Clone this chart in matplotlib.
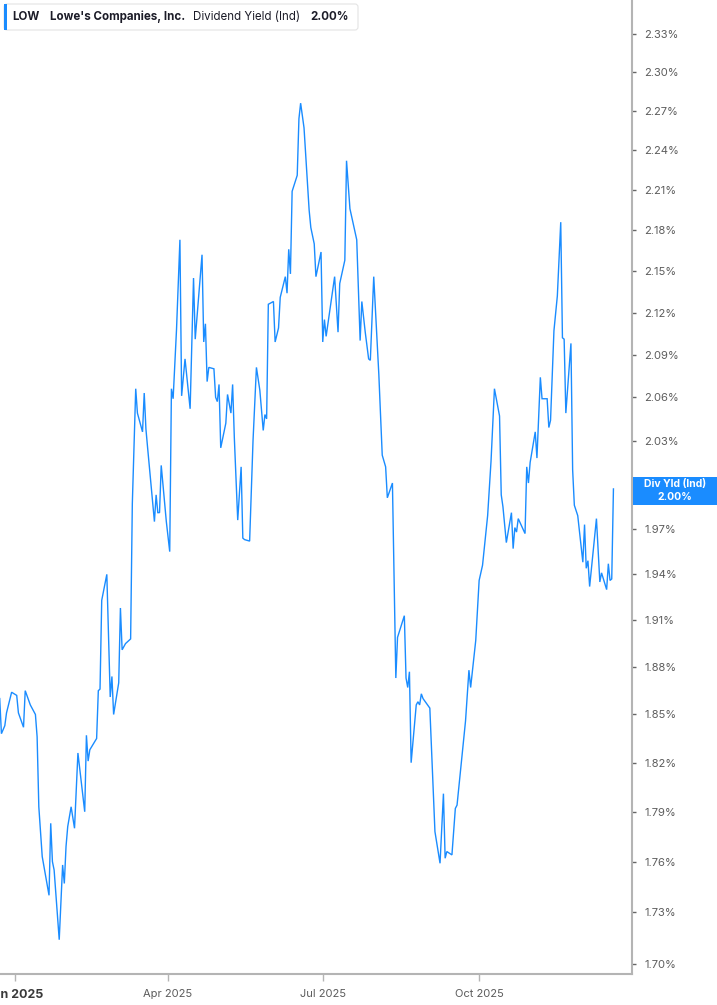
import matplotlib
matplotlib.use("Agg")
import matplotlib.pyplot as plt
import pandas as pd
from matplotlib.patches import FancyBboxPatch, Rectangle
from matplotlib.transforms import IdentityTransform
from matplotlib.ticker import NullLocator

# Lowe's (LOW) - dividend yield (indicated), in %
dates = [
    "2024-12-23", "2024-12-24", "2024-12-26", "2024-12-27", "2024-12-30",
    "2025-01-02", "2025-01-03", "2025-01-06", "2025-01-07", "2025-01-10",
    "2025-01-13", "2025-01-14", "2025-01-15", "2025-01-17", "2025-01-21",
    "2025-01-22", "2025-01-23", "2025-01-24", "2025-01-27", "2025-01-29",
    "2025-01-30", "2025-01-31", "2025-02-01", "2025-02-03", "2025-02-05",
    "2025-02-07", "2025-02-11", "2025-02-12", "2025-02-13", "2025-02-14",
    "2025-02-18", "2025-02-19", "2025-02-20", "2025-02-21", "2025-02-24",
    "2025-02-26", "2025-02-27", "2025-02-28", "2025-03-03", "2025-03-04",
    "2025-03-05", "2025-03-07", "2025-03-10", "2025-03-11", "2025-03-13",
    "2025-03-14", "2025-03-17", "2025-03-18", "2025-03-19", "2025-03-20",
    "2025-03-24", "2025-03-25", "2025-03-26", "2025-03-27", "2025-03-28",
    "2025-03-31", "2025-04-02", "2025-04-03", "2025-04-04", "2025-04-06",
    "2025-04-08", "2025-04-09", "2025-04-11", "2025-04-14", "2025-04-16",
    "2025-04-17", "2025-04-19", "2025-04-21", "2025-04-22", "2025-04-23",
    "2025-04-24", "2025-04-25", "2025-04-28", "2025-04-29", "2025-04-30",
    "2025-05-01", "2025-05-02", "2025-05-05", "2025-05-06", "2025-05-08",
    "2025-05-09", "2025-05-10", "2025-05-12", "2025-05-14", "2025-05-15",
    "2025-05-16", "2025-05-19", "2025-05-21", "2025-05-23", "2025-05-25",
    "2025-05-27", "2025-05-28", "2025-05-29", "2025-05-30", "2025-06-02",
    "2025-06-03", "2025-06-05", "2025-06-06", "2025-06-09", "2025-06-10",
    "2025-06-11", "2025-06-12", "2025-06-13", "2025-06-16", "2025-06-17",
    "2025-06-18", "2025-06-20", "2025-06-23", "2025-06-24", "2025-06-26",
    "2025-06-27", "2025-06-30", "2025-07-01", "2025-07-02", "2025-07-03",
    "2025-07-08", "2025-07-10", "2025-07-11", "2025-07-14", "2025-07-15",
    "2025-07-17", "2025-07-21", "2025-07-23", "2025-07-24", "2025-07-26",
    "2025-07-28", "2025-07-29", "2025-07-31", "2025-08-03", "2025-08-05",
    "2025-08-07", "2025-08-08", "2025-08-11", "2025-08-13", "2025-08-14",
    "2025-08-16", "2025-08-18", "2025-08-19", "2025-08-20", "2025-08-21",
    "2025-08-22", "2025-08-25", "2025-08-26", "2025-08-27", "2025-08-28",
    "2025-08-29", "2025-09-02", "2025-09-05", "2025-09-08", "2025-09-10",
    "2025-09-11", "2025-09-12", "2025-09-15", "2025-09-17", "2025-09-18",
    "2025-09-23", "2025-09-25", "2025-09-26", "2025-09-29", "2025-10-01",
    "2025-10-03", "2025-10-06", "2025-10-08", "2025-10-10", "2025-10-13",
    "2025-10-14", "2025-10-15", "2025-10-17", "2025-10-20", "2025-10-21",
    "2025-10-22", "2025-10-23", "2025-10-24", "2025-10-28", "2025-10-29",
    "2025-10-30", "2025-10-31", "2025-11-03", "2025-11-04", "2025-11-06",
    "2025-11-07", "2025-11-10", "2025-11-11", "2025-11-12", "2025-11-14",
    "2025-11-16", "2025-11-18", "2025-11-19", "2025-11-20", "2025-11-21",
    "2025-11-24", "2025-11-25", "2025-11-26", "2025-11-28", "2025-12-01",
    "2025-12-02", "2025-12-03", "2025-12-04", "2025-12-05", "2025-12-09",
    "2025-12-11", "2025-12-12", "2025-12-15", "2025-12-16", "2025-12-17",
    "2025-12-18", "2025-12-19",
]

div_yield = [
    1.860, 1.838, 1.843, 1.851, 1.864,
    1.862, 1.851, 1.842, 1.865, 1.856,
    1.850, 1.836, 1.793, 1.763, 1.740,
    1.783, 1.760, 1.755, 1.714, 1.758,
    1.747, 1.769, 1.781, 1.793, 1.780,
    1.826, 1.790, 1.837, 1.821, 1.828,
    1.835, 1.865, 1.866, 1.923, 1.940,
    1.861, 1.874, 1.850, 1.870, 1.918,
    1.891, 1.895, 1.898, 1.987, 2.066,
    2.049, 2.036, 2.063, 2.038, 2.025,
    1.975, 1.993, 1.981, 1.981, 2.013,
    1.975, 1.955, 2.066, 2.059, 2.108,
    2.173, 2.061, 2.087, 2.052, 2.145,
    2.101, 2.131, 2.162, 2.099, 2.112,
    2.071, 2.081, 2.080, 2.060, 2.057,
    2.069, 2.025, 2.042, 2.062, 2.049,
    2.069, 2.032, 1.976, 2.012, 1.964,
    1.963, 1.962, 2.030, 2.081, 2.065,
    2.037, 2.048, 2.045, 2.126, 2.128,
    2.099, 2.109, 2.131, 2.146, 2.134,
    2.166, 2.148, 2.209, 2.221, 2.264,
    2.276, 2.257, 2.195, 2.182, 2.170,
    2.146, 2.164, 2.099, 2.115, 2.103,
    2.146, 2.106, 2.141, 2.158, 2.232,
    2.196, 2.173, 2.100, 2.128, 2.106,
    2.087, 2.086, 2.146, 2.076, 2.020,
    2.012, 1.991, 2.001, 1.873, 1.899,
    1.906, 1.913, 1.873, 1.867, 1.877,
    1.820, 1.856, 1.858, 1.856, 1.863,
    1.860, 1.854, 1.778, 1.759, 1.801,
    1.762, 1.766, 1.764, 1.792, 1.794,
    1.846, 1.878, 1.867, 1.897, 1.936,
    1.946, 1.979, 2.016, 2.066, 2.047,
    1.993, 1.985, 1.961, 1.981, 1.957,
    1.971, 1.968, 1.977, 1.967, 2.012,
    2.001, 2.015, 2.036, 2.018, 2.074,
    2.059, 2.059, 2.039, 2.044, 2.107,
    2.132, 2.186, 2.102, 2.101, 2.049,
    2.098, 2.010, 1.986, 1.979, 1.948,
    1.973, 1.944, 1.949, 1.932, 1.977,
    1.935, 1.941, 1.930, 1.947, 1.936,
    1.937, 1.997,
]

# 2.00% sits under the last-value tag, so it is not listed
ytick_vals = [1.70, 1.73, 1.76, 1.79, 1.82, 1.85, 1.88, 1.91, 1.94, 1.97,
              2.03, 2.06, 2.09, 2.12, 2.15, 2.18, 2.21, 2.24, 2.27,
              2.30, 2.33]
xtick_dates = ["2025-01-01", "2025-04-01", "2025-07-01", "2025-10-01"]
xtick_labels = ["Jan 2025", "Apr 2025", "Jul 2025", "Oct 2025"]

ticker = "LOW"
company = "Lowe's Companies, Inc."
metric = "Dividend Yield (Ind)"
last_label = "2.00%"

BLUE = "#1a8cff"
GRID = "#b4b4b4"
TXT = "#5c5c5c"

plt.rcParams["font.family"] = ["Inter", "DejaVu Sans"]

W, H = 717, 1005
fig = plt.figure(figsize=(W / 100, H / 100), dpi=100)
ax = fig.add_axes([0, 31 / H, 632 / W, 974 / H])

ax.plot(pd.to_datetime(dates), div_yield, color=BLUE, lw=1.0, solid_joinstyle="miter")

ax.set_yscale("log")
ax.set_ylim(1.6942, 2.357)
ax.set_xlim(pd.Timestamp("2024-12-23 04:00"), pd.Timestamp("2025-12-29 22:00"))

ax.yaxis.tick_right()
ax.set_yticks(ytick_vals)
ax.set_yticklabels([f"{v:.2f}%" for v in ytick_vals])
ax.yaxis.set_minor_locator(NullLocator())
ax.tick_params(axis="y", direction="out", length=3, width=1, color="#666666",
               pad=6, labelsize=8, labelcolor=TXT)

ax.set_xticks(pd.to_datetime(xtick_dates))
ax.set_xticklabels(xtick_labels)
ax.xaxis.set_minor_locator(NullLocator())
ax.tick_params(axis="x", direction="out", length=5, width=1, color=GRID,
               pad=6, labelsize=8, labelcolor=TXT)
first = ax.get_xticklabels()[0]
first.set_fontweight("bold")
first.set_fontsize(9)
first.set_color("#3a3a3a")

for side in ("top", "left"):
    ax.spines[side].set_visible(False)
for side in ("right", "bottom"):
    ax.spines[side].set_color(GRID)
    ax.spines[side].set_linewidth(1.5)

# header box (pixel coordinates)
px = IdentityTransform()
fig.patches.append(FancyBboxPatch((4, H - 30), 354, 26,
                                  boxstyle="round,pad=0,rounding_size=3",
                                  transform=px, facecolor="white",
                                  edgecolor="#e4e4e4", lw=0.8))
fig.patches.append(Rectangle((4, H - 30), 3, 26, transform=px,
                             facecolor=BLUE, edgecolor="none"))
hy = H - 17
hdr = dict(transform=px, fontsize=8.3, color="#1c1c28", va="center")
fig.text(12, hy, ticker, fontweight="bold", **hdr)
fig.text(50, hy, company, fontweight="bold", **hdr)
fig.text(193, hy, metric, **hdr)
fig.text(310, hy, last_label, fontweight="bold", **hdr)

# last value tag on the right axis
fig.patches.append(Rectangle((633, H - 505), 84, 28, transform=px,
                             facecolor=BLUE, edgecolor="none"))
fig.text(675, H - 484, "Div Yld (Ind)", transform=px, fontsize=7.5,
         fontweight="bold", color="white", ha="center", va="center")
fig.text(675, H - 497, last_label, transform=px, fontsize=7.5,
         fontweight="bold", color="white", ha="center", va="center")

fig.savefig("out.png", dpi=100)
